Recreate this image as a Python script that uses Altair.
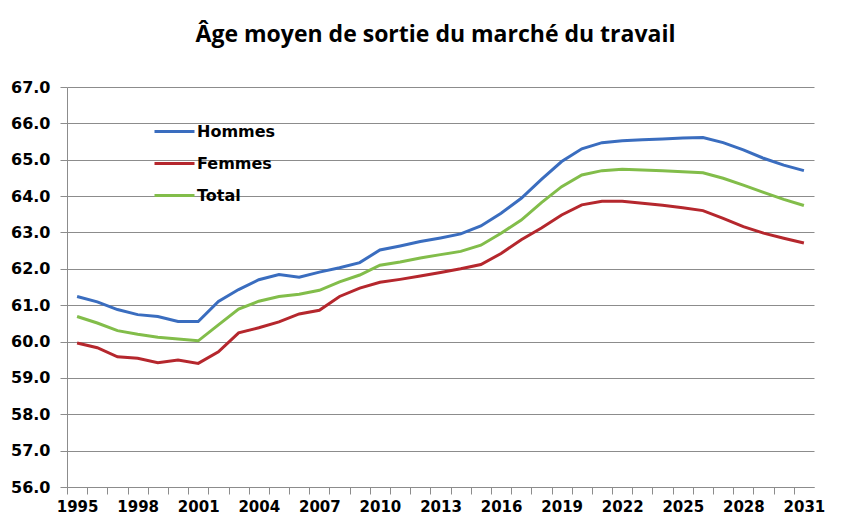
import altair as alt
import pandas as pd

years = [1995, 1996, 1997, 1998, 1999, 2000, 2001, 2002, 2003, 2004,
         2005, 2006, 2007, 2008, 2009, 2010, 2011, 2012, 2013, 2014,
         2015, 2016, 2017, 2018, 2019, 2020, 2021, 2022, 2023, 2024,
         2025, 2026, 2027, 2028, 2029, 2030, 2031]

hommes = [61.24, 61.09, 60.88, 60.74, 60.69, 60.55, 60.55, 61.10, 61.43, 61.70,
          61.84, 61.77, 61.91, 62.03, 62.17, 62.52, 62.63, 62.75, 62.85, 62.96,
          63.18, 63.53, 63.94, 64.46, 64.95, 65.30, 65.47, 65.52, 65.55, 65.57,
          65.60, 65.61, 65.47, 65.27, 65.04, 64.85, 64.70]

femmes = [59.96, 59.83, 59.58, 59.54, 59.42, 59.49, 59.40, 59.72, 60.24, 60.38,
          60.54, 60.76, 60.86, 61.24, 61.47, 61.63, 61.71, 61.80, 61.90, 62.00,
          62.12, 62.42, 62.80, 63.12, 63.48, 63.76, 63.86, 63.86, 63.80, 63.75,
          63.68, 63.60, 63.39, 63.16, 62.98, 62.84, 62.71]

total = [60.69, 60.51, 60.30, 60.20, 60.12, 60.07, 60.02, 60.46, 60.89, 61.11,
         61.24, 61.30, 61.41, 61.64, 61.83, 62.10, 62.19, 62.30, 62.39, 62.48,
         62.65, 62.98, 63.34, 63.82, 64.26, 64.58, 64.70, 64.74, 64.72, 64.70,
         64.67, 64.64, 64.49, 64.30, 64.10, 63.91, 63.74]

series = ["Hommes", "Femmes", "Total"]
colors = ["#3A6DBF", "#B5272D", "#82BD4A"]
y_ticks = [56, 57, 58, 59, 60, 61, 62, 63, 64, 65, 66, 67]

rows = []
for name, vals in zip(series, [hommes, femmes, total]):
    for yr, v in zip(years, vals):
        rows.append({"year": yr, "value": v, "serie": name})
df = pd.DataFrame(rows)

W, H = 747, 400
half_step = W / len(years) / 2
label_font = "DejaVu Sans"
grey = "#8c8c8c"

chart = alt.Chart(df).mark_line(strokeWidth=3).encode(
    x=alt.X("year:O",
            scale=alt.Scale(type="point", padding=0.5),
            axis=alt.Axis(title=None, grid=False, labelAngle=0,
                          tickOffset=-half_step, labelOffset=half_step,
                          labelExpr="(datum.value - 1995) % 3 == 0 ? datum.label : ''",
                          labelFont=label_font, labelFontSize=15, labelFontWeight="bold",
                          labelColor="black", labelPadding=5,
                          domainColor=grey, tickColor=grey, tickSize=7)),
    y=alt.Y("value:Q",
            scale=alt.Scale(domain=[56, 67], nice=False, zero=False),
            axis=alt.Axis(title=None, values=y_ticks, format=".1f",
                          labelFont=label_font, labelFontSize=16, labelFontWeight="bold",
                          labelColor="black", labelPadding=10,
                          domainColor=grey, tickColor=grey, tickSize=7,
                          gridColor=grey, gridWidth=1)),
    color=alt.Color("serie:N",
                    scale=alt.Scale(domain=series, range=colors),
                    legend=alt.Legend(title=None, orient="none", legendX=86, legendY=23,
                                      symbolType="stroke", symbolSize=1600,
                                      symbolStrokeWidth=3, rowPadding=2,
                                      labelFont=label_font, labelFontSize=16,
                                      labelFontWeight="bold", labelColor="black",
                                      labelOffset=1, padding=0)),
).properties(
    width=W, height=H,
    title=alt.Title("Âge moyen de sortie du marché du travail",
                    font="Open Sans", fontSize=23, fontWeight="bold", color="black",
                    anchor="middle", frame="group", baseline="alphabetic",
                    offset=14, dx=-5),
    autosize=alt.AutoSizeParams(type="none"),
    padding={"left": 59, "top": 79, "right": 28, "bottom": 31},
).configure_view(stroke=None)

chart.save("out.html", embed_options={"renderer": "svg", "actions": False})
